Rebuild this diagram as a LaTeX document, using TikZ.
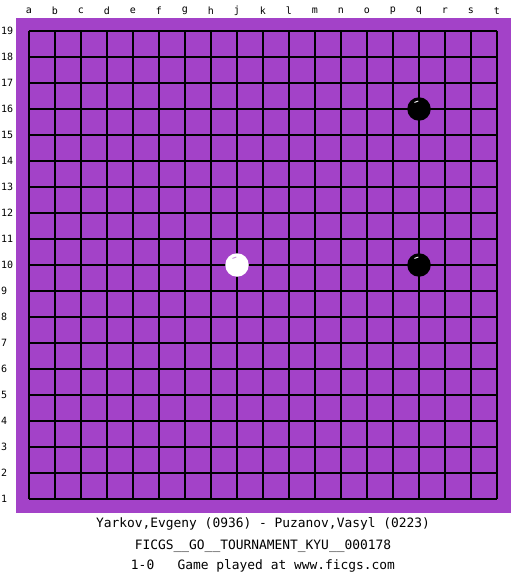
\documentclass[tikz,border=0pt]{standalone}
\usepackage{fontspec}
\setmonofont{DejaVu Sans Mono}
\definecolor{boardpurple}{RGB}{163,66,200}
\begin{document}
\begin{tikzpicture}[x=1pt,y=-1pt,
  gridline/.style={black,line width=1.1pt},
  collabel/.style={font=\ttfamily\fontsize{10}{10}\selectfont,inner sep=0pt,anchor=center},
  rowlabel/.style={font=\ttfamily\fontsize{10}{10}\selectfont,inner sep=0pt,anchor=west},
  caption/.style={font=\ttfamily\fontsize{12.9}{13}\selectfont,inner sep=0pt,anchor=center},
  blackstone/.style={circle,fill=black,minimum size=23.5pt,inner sep=0pt},
  whitestone/.style={circle,fill=white,minimum size=23.5pt,inner sep=0pt}]
\useasboundingbox (0,0) rectangle (525,575);
\fill[white] (0,0) rectangle (525,575);
\fill[boardpurple] (16,18) rectangle (511,513);
\foreach \i in {0,...,18} {
  \draw[gridline] (29+26*\i,31) -- (29+26*\i,499);
  \draw[gridline] (29,31+26*\i) -- (497,31+26*\i);
}
\foreach \l [count=\i from 0] in {a,b,c,d,e,f,g,h,j,k,l,m,n,o,p,q,r,s,t} {
  \node[collabel] (col\i) at (29+26*\i,10.5) {\l};
}
\foreach \i in {1,...,19} {
  \node[rowlabel] (row\i) at (1,31+26*19-26*\i) {\i};
}
\node[blackstone] (q16) at (419,109) {};
\draw[white,line width=0.9pt] (q16.center) ++(235:8) arc (235:265:8);
\node[blackstone] (q10) at (419,265) {};
\draw[white,line width=0.9pt] (q10.center) ++(235:8) arc (235:265:8);
\node[whitestone] (j10) at (237,265) {};
\draw[boardpurple!60!white,line width=0.9pt] (j10.center) ++(235:8) arc (235:265:8);
\node[caption] (players) at (263,524) {Yarkov,Evgeny (0936) - Puzanov,Vasyl (0223)};
\node[caption] (event) at (263,546) {FICGS\_\_GO\_\_TOURNAMENT\_KYU\_\_000178};
\node[caption] (result) at (263,566) {1-0\ \ \ Game played at www.ficgs.com};
\end{tikzpicture}
\end{document}
